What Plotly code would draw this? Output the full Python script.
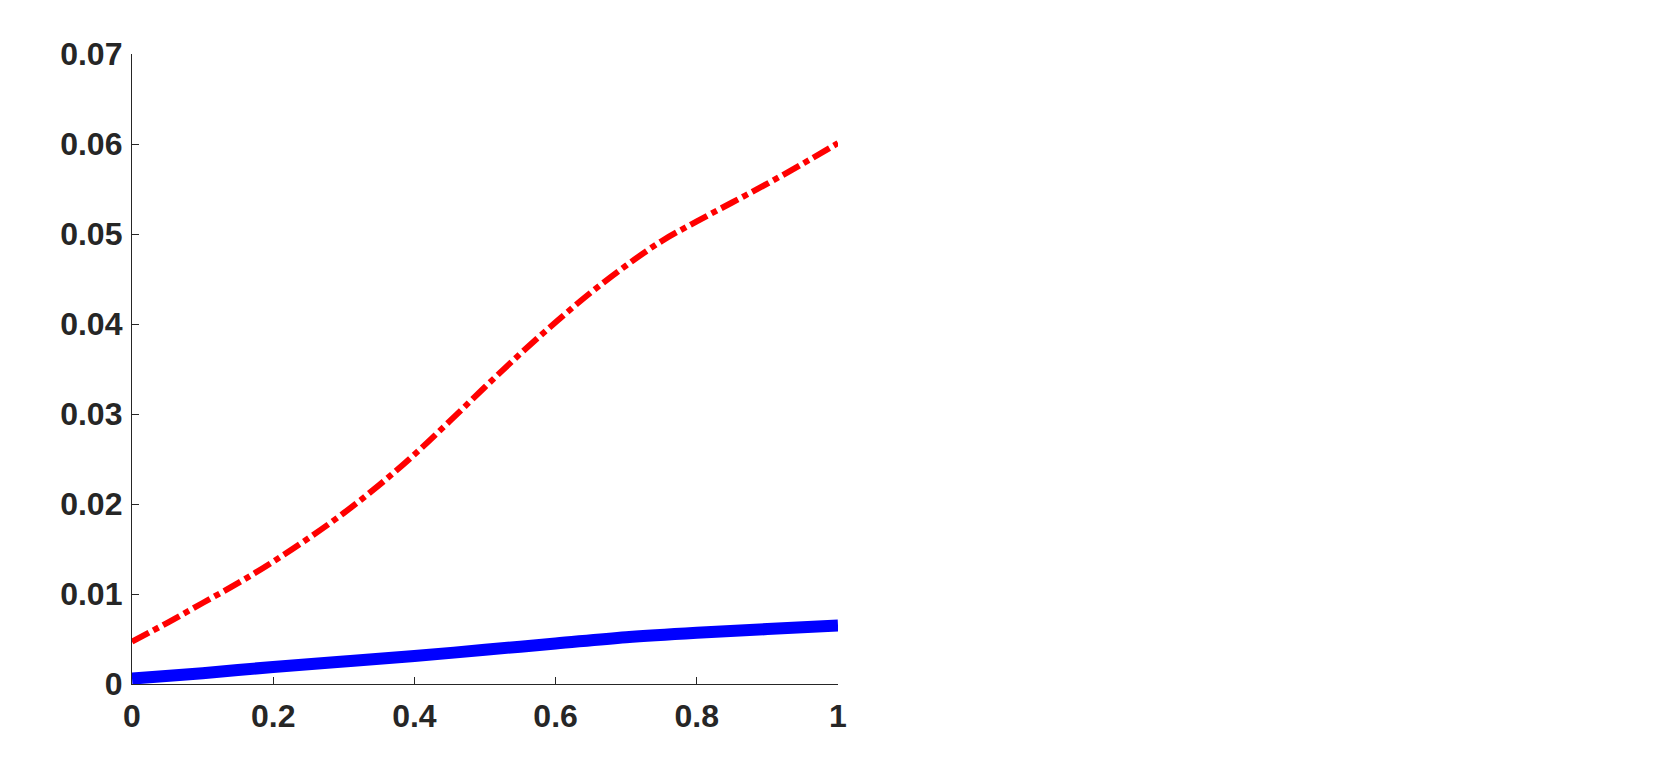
import plotly.graph_objects as go

# sampled positions along x
x_red = [0, 0.05, 0.1, 0.15, 0.2, 0.25, 0.3, 0.35, 0.4, 0.45, 0.5,
         0.55, 0.6, 0.65, 0.7, 0.75, 0.8, 0.85, 0.9, 0.95, 1.0]
y_red = [0.0047, 0.0068, 0.0090, 0.0112, 0.0136, 0.0162, 0.0190, 0.0221, 0.0255, 0.0292, 0.0330,
         0.0367, 0.0402, 0.0435, 0.0465, 0.0492, 0.0514, 0.0535, 0.0556, 0.0578, 0.0601]

x_blue = [0, 0.1, 0.2, 0.3, 0.4, 0.5, 0.6, 0.7, 0.8, 0.9, 1.0]
y_blue = [0.0006, 0.0012, 0.0019, 0.0025, 0.0031, 0.0038, 0.0045, 0.0052, 0.0057, 0.0061, 0.0065]

x_ticks = [0, 0.2, 0.4, 0.6, 0.8, 1]
x_ticktext = ['0', '0.2', '0.4', '0.6', '0.8', '1']
y_ticks = [0, 0.01, 0.02, 0.03, 0.04, 0.05, 0.06, 0.07]
y_ticktext = ['0', '0.01', '0.02', '0.03', '0.04', '0.05', '0.06', '0.07']

axis_color = '#262626'
tick_font = dict(family='Liberation Sans, Arial, sans-serif', size=32, color=axis_color, weight='bold')

fig = go.Figure()

fig.add_trace(go.Scatter(
    x=x_blue, y=y_blue,
    mode='lines',
    line=dict(color='#0000ff', width=12, shape='spline'),
    showlegend=False
))

fig.add_trace(go.Scatter(
    x=x_red, y=y_red,
    mode='lines',
    line=dict(color='#ff0000', width=6, dash='19px,5px,6px,5px', shape='spline'),
    showlegend=False
))

# page body has an 8px margin, so the figure is sized and placed around it
fig.update_layout(
    width=1645, height=763,
    margin=dict(l=124, r=815, t=46, b=87),
    plot_bgcolor='white',
    paper_bgcolor='white',
)

fig.update_xaxes(range=[0, 1], tickvals=x_ticks, ticktext=x_ticktext,
                 showline=True, linecolor=axis_color, linewidth=1.3,
                 ticks='inside', ticklen=7, tickcolor=axis_color, tickwidth=1.3,
                 showgrid=False, zeroline=False, tickfont=tick_font,
                 ticklabelstandoff=3)
fig.update_yaxes(range=[0, 0.07], tickvals=y_ticks, ticktext=y_ticktext,
                 showline=True, linecolor=axis_color, linewidth=1.3,
                 ticks='inside', ticklen=7, tickcolor=axis_color, tickwidth=1.3,
                 showgrid=False, zeroline=False, tickfont=tick_font,
                 ticklabelstandoff=2)

fig.write_html("out.html")
